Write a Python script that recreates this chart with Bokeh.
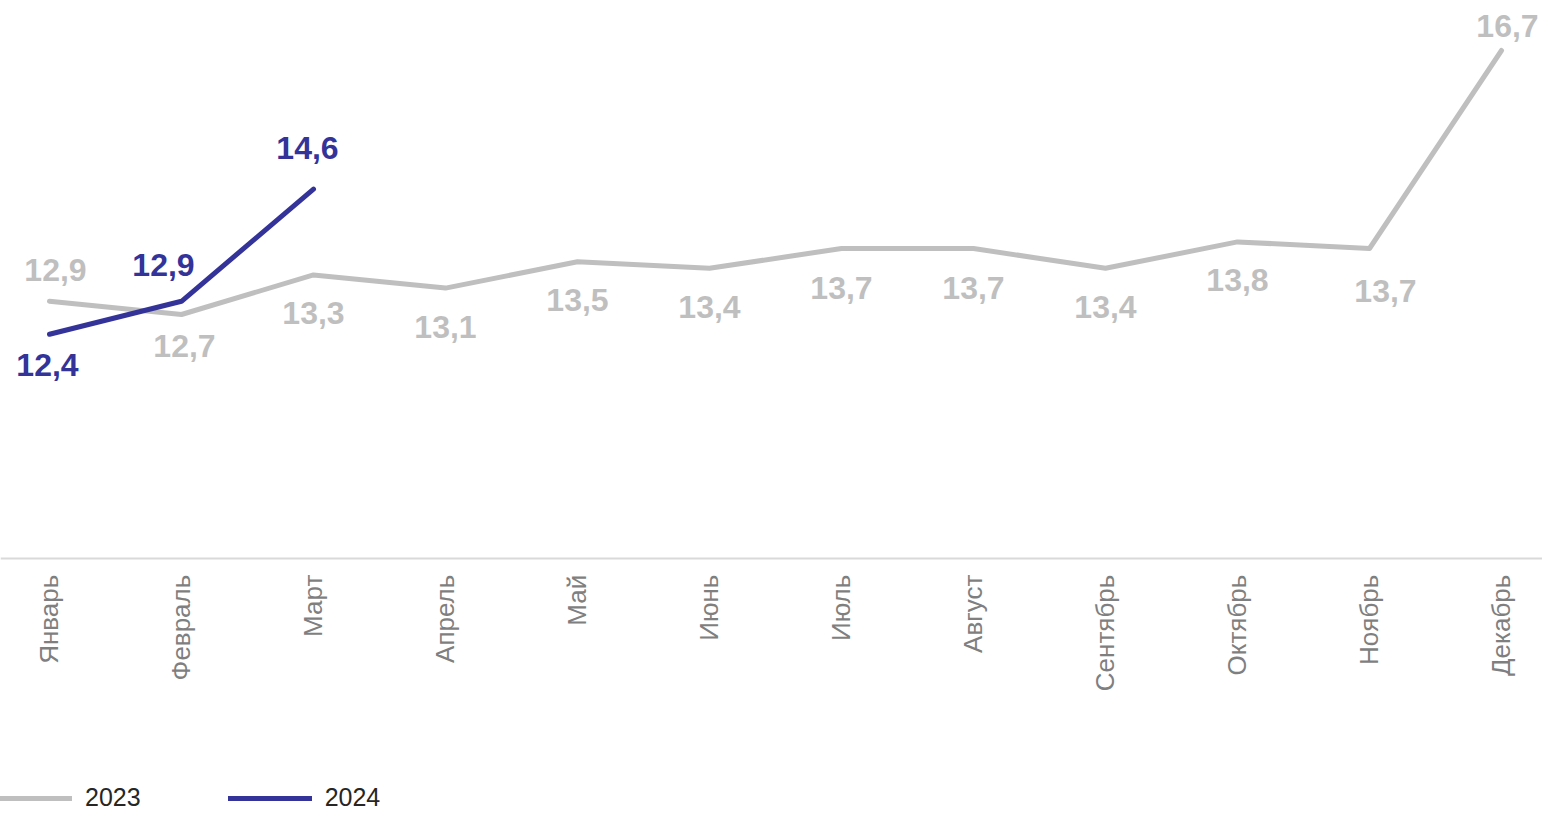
import math
from bokeh.plotting import figure
from bokeh.models import Range1d, LinearAxis, FixedTicker, Legend, LegendItem, ColumnDataSource
from bokeh.core.properties import value
from bokeh.embed import file_html
from bokeh.resources import INLINE

# ---- data ----
months = ["Январь", "Февраль", "Март", "Апрель", "Май", "Июнь",
          "Июль", "Август", "Сентябрь", "Октябрь", "Ноябрь", "Декабрь"]
values_2023 = [12.9, 12.7, 13.3, 13.1, 13.5, 13.4, 13.7, 13.7, 13.4, 13.8, 13.7, 16.7]
values_2024 = [12.4, 12.9, 14.6]
series_names = ["2023", "2024"]

# ---- styles ----
GRAY = "#BFBFBF"
BLUE = "#333399"
FONT = "Liberation Sans"

# label offsets in screen pixels (positive y = down)
off23_x = [6, 3, 0, 0, 0, 0, 0, 0, 0, 0, 16, 6]
off23_y = [-31, 31, 38, 39, 38, 39, 39, 39, 39, 38, 42, -25]
off24_x = [-2, -18, -6]
off24_y = [31, -36, -41]

def fmt(v):
    return f"{v:.1f}".replace(".", ",")

W, H = 1542, 812
px_per_x = 132.0
px_per_y = 66.0
x0 = -49.0 / px_per_x
y_top = 12.7 + 314.0 / px_per_y
y_bot = y_top - H / px_per_y

p = figure(width=W, height=H, output_backend="svg", toolbar_location=None,
           x_range=Range1d(x0, x0 + W / px_per_x), y_range=Range1d(y_bot, y_top),
           x_axis_type=None, y_axis_type=None, min_border=0)
p.outline_line_color = None
p.xgrid.visible = False
p.ygrid.visible = False
p.background_fill_color = "white"
p.border_fill_color = "white"

ax = LinearAxis(fixed_location=9.0)
ax.ticker = FixedTicker(ticks=list(range(len(months))))
ax.major_label_overrides = {i: m for i, m in enumerate(months)}
ax.minor_tick_line_color = None
ax.major_tick_line_color = None
ax.major_tick_in = 0
ax.major_tick_out = 0
ax.axis_line_color = "#D9D9D9"
ax.axis_line_width = 2
ax.major_label_orientation = math.pi / 2
ax.major_label_standoff = 16
ax.major_label_text_font = FONT
ax.major_label_text_font_size = "26px"
ax.major_label_text_color = "#7F7F7F"
p.add_layout(ax, "below")

src23 = ColumnDataSource(dict(x=list(range(len(values_2023))), y=values_2023,
                              t=[fmt(v) for v in values_2023], dx=off23_x, dy=off23_y))
src24 = ColumnDataSource(dict(x=list(range(len(values_2024))), y=values_2024,
                              t=[fmt(v) for v in values_2024], dx=off24_x, dy=off24_y))

r23 = p.line("x", "y", source=src23, line_color=GRAY, line_width=5,
             line_cap="round", line_join="round")
r24 = p.line("x", "y", source=src24, line_color=BLUE, line_width=5,
             line_cap="round", line_join="round")

p.text("x", "y", text="t", source=src23, x_offset="dx", y_offset="dy",
       text_align="center", text_baseline="middle", text_color=GRAY,
       text_font=value(FONT), text_font_style="bold", text_font_size="32px")
p.text("x", "y", text="t", source=src24, x_offset="dx", y_offset="dy",
       text_align="center", text_baseline="middle", text_color=BLUE,
       text_font=value(FONT), text_font_style="bold", text_font_size="32px")

legend = Legend(items=[LegendItem(label=series_names[0], renderers=[r23]),
                       LegendItem(label=series_names[1], renderers=[r24])],
                orientation="horizontal", location=(-12, 0),
                glyph_width=84, glyph_height=14, label_height=14,
                label_standoff=13, spacing=87, padding=0, margin=0,
                border_line_color=None, background_fill_alpha=0,
                label_text_font=FONT, label_text_font_size="25px",
                label_text_color="#262626", label_text_baseline="middle")
p.add_layout(legend, "center")

open("out.html", "w").write(file_html(p, INLINE))
